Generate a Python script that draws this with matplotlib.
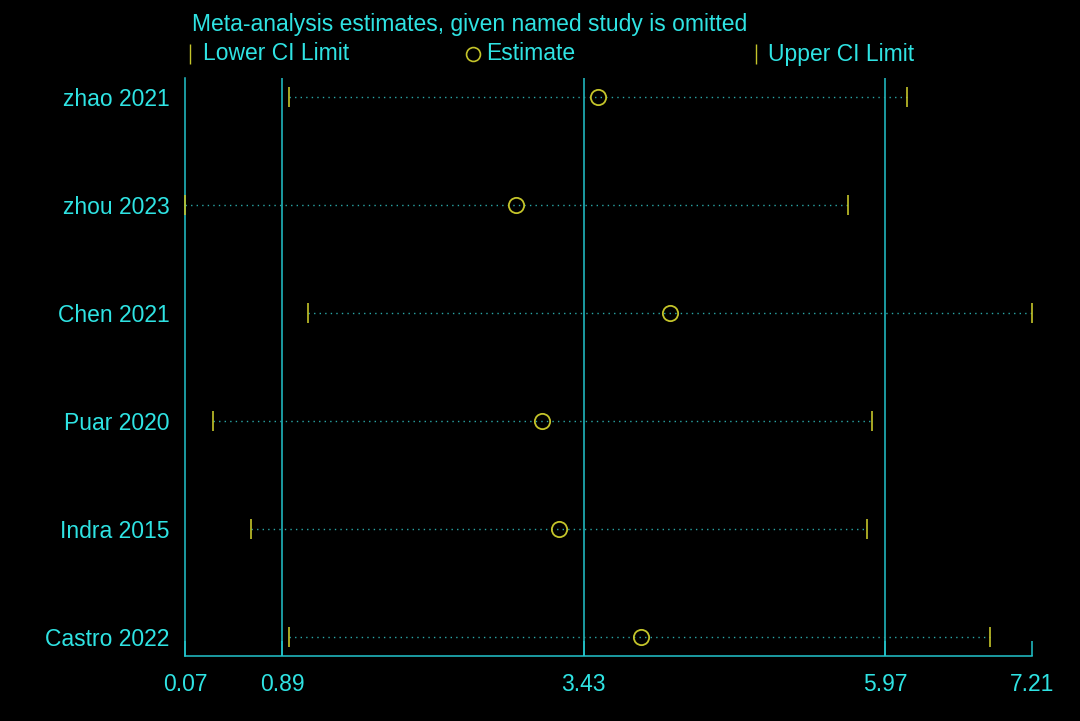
import matplotlib
matplotlib.use("Agg")
import matplotlib.pyplot as plt
from matplotlib import font_manager

studies = ["zhao 2021", "zhou 2023", "Chen 2021", "Puar 2020", "Indra 2015", "Castro 2022"]
lower = [0.95, 0.07, 1.11, 0.31, 0.63, 0.95]
estimate = [3.55, 2.86, 4.16, 3.08, 3.22, 3.91]
upper = [6.16, 5.66, 7.21, 5.86, 5.82, 6.86]
ref_lines = [0.89, 3.43, 5.97]
xticks = [0.07, 0.89, 3.43, 5.97, 7.21]
xtick_labels = ["0.07", "0.89", "3.43", "5.97", "7.21"]

names = {f.name for f in font_manager.fontManager.ttflist}
fam = "Liberation Sans Narrow" if "Liberation Sans Narrow" in names else "Liberation Sans"
plt.rcParams['font.family'] = [fam, 'DejaVu Sans']

CYAN = "#2fe3e3"
LINE = "#22c4cc"
YEL = "#c4c42a"
DOT = "#2aa6a6"

fig = plt.figure(figsize=(10.8, 7.21), dpi=100, facecolor="black")
ax = fig.add_axes([185/1080, 65/721, (1032-185)/1080, (656-78)/721])
ax.set_facecolor("black")

n = len(studies)
ys = list(range(n, 0, -1))
pad = 19/108
ax.set_xlim(0.07, 7.21)
ax.set_ylim(1 - pad, n + pad)

for xv in ref_lines:
    ax.axvline(xv, color=LINE, lw=1.1, zorder=1)

for y, lo, est, up in zip(ys, lower, estimate, upper):
    ax.plot([lo, up], [y, y], linestyle=(0, (1, 3)), color=DOT, lw=1.0, zorder=2)
    ax.plot([lo], [y], marker="|", color=YEL, ms=15, mew=1.2, zorder=3, clip_on=False)
    ax.plot([up], [y], marker="|", color=YEL, ms=15, mew=1.2, zorder=3, clip_on=False)
    ax.plot([est], [y], marker="o", mfc="none", mec=YEL, ms=11, mew=1.3, zorder=4)

for s in ["top", "right"]:
    ax.spines[s].set_visible(False)
ax.spines["left"].set_color(LINE)
ax.spines["bottom"].set_color(LINE)
ax.spines["left"].set_linewidth(1.1)
ax.spines["bottom"].set_linewidth(1.1)

ax.set_yticks(ys)
ax.set_yticklabels(studies)
ax.tick_params(axis="y", length=0, pad=11, labelsize=16.5, labelcolor=CYAN)
ax.set_xticks(xticks)
ax.set_xticklabels(xtick_labels)
ax.tick_params(axis="x", direction="in", length=11, width=1.1, color=LINE,
               pad=12, labelsize=16.5, labelcolor=CYAN)

fig.text(192/1080, 1 - 24/721, "Meta-analysis estimates, given named study is omitted",
         color=CYAN, fontsize=16.5, va="center", ha="left")

# legend row
ly = 1 - 54/721
fig.lines.append(plt.Line2D([190/1080], [ly], marker="|", color=YEL, ms=14, mew=1.0,
                            transform=fig.transFigure))
fig.text(203/1080, ly, "Lower CI Limit", color=CYAN, fontsize=16.5, va="center", ha="left")
fig.lines.append(plt.Line2D([473/1080], [ly], marker="o", mfc="none", mec=YEL, ms=10, mew=1.2,
                            transform=fig.transFigure))
fig.text(486/1080, ly, "Estimate", color=CYAN, fontsize=16.5, va="center", ha="left")
fig.lines.append(plt.Line2D([756/1080], [ly], marker="|", color=YEL, ms=14, mew=1.0,
                            transform=fig.transFigure))
fig.text(768/1080, ly, "Upper CI Limit", color=CYAN, fontsize=16.5, va="center", ha="left")

fig.savefig("out.png", dpi=100, facecolor="black")
